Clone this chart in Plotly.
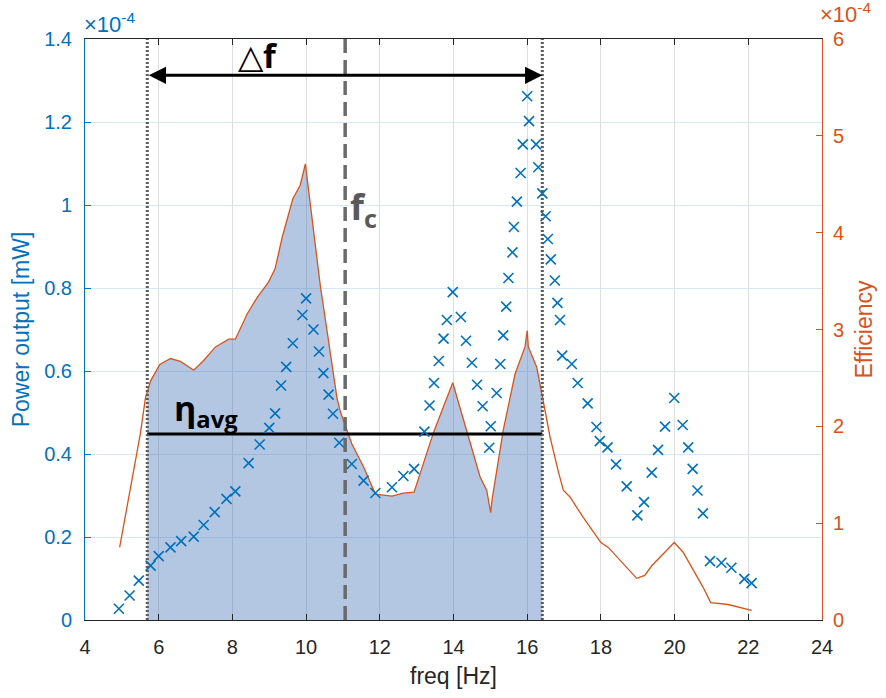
import numpy as np
import plotly.graph_objects as go

# ---- data (power in units of 1e-4 mW, efficiency in units of 1e-4) ----
freq_p = [4.92, 5.21, 5.46, 5.78, 6.00, 6.32, 6.61, 6.95, 7.22, 7.52, 7.84, 8.08,
          8.44, 8.74, 9.00, 9.16, 9.32, 9.46, 9.64, 9.90, 10.00, 10.20, 10.35, 10.47,
          10.61, 10.73, 10.90, 11.24, 11.56, 11.88, 12.33, 12.64, 12.93, 13.21, 13.35,
          13.47, 13.60, 13.73, 13.82, 13.98, 14.20, 14.34, 14.50, 14.64, 14.79, 14.97,
          15.01, 15.17, 15.27, 15.35, 15.43, 15.49, 15.60, 15.64, 15.72, 15.82, 15.88,
          16.00, 16.05, 16.24, 16.30, 16.41, 16.50, 16.56, 16.64, 16.75, 16.82, 16.89,
          16.95, 17.21, 17.37, 17.64, 17.88, 17.97, 18.18, 18.41, 18.70, 18.99, 19.17,
          19.38, 19.55, 19.74, 19.99, 20.22, 20.37, 20.49, 20.62, 20.77, 20.96, 21.27,
          21.54, 21.89, 22.09]
power = [0.027, 0.059, 0.095, 0.131, 0.154, 0.175, 0.190, 0.201, 0.229, 0.260, 0.292, 0.310,
         0.378, 0.423, 0.463, 0.498, 0.565, 0.610, 0.667, 0.735, 0.775, 0.700, 0.647, 0.595,
         0.543, 0.497, 0.427, 0.376, 0.336, 0.306, 0.320, 0.347, 0.364, 0.454, 0.517,
         0.571, 0.624, 0.678, 0.723, 0.790, 0.730, 0.673, 0.620, 0.567, 0.515, 0.415,
         0.467, 0.547, 0.617, 0.686, 0.755, 0.824, 0.886, 0.947, 1.008, 1.077, 1.146,
         1.262, 1.202, 1.146, 1.091, 1.028, 0.973, 0.918, 0.869, 0.818, 0.764, 0.723,
         0.637, 0.617, 0.571, 0.522, 0.465, 0.431, 0.416, 0.375, 0.322, 0.252, 0.284,
         0.355, 0.410, 0.466, 0.535, 0.470, 0.416, 0.364, 0.312, 0.257, 0.142, 0.138,
         0.126, 0.099, 0.089]

freq_e = [4.94, 5.30, 5.50, 5.64, 5.78, 6.03, 6.32, 6.59, 6.95, 7.22, 7.54, 7.90, 8.08, 8.40,
          8.67, 8.98, 9.16, 9.35, 9.64, 9.84, 9.98, 10.38, 10.84, 10.93, 11.24, 11.56,
          11.88, 12.33, 12.64, 12.93, 13.18, 13.46, 13.98, 14.36, 14.72, 14.90, 15.01,
          15.05, 15.35, 15.67, 15.94, 16.00, 16.03, 16.26, 16.39, 16.62, 16.84, 16.98,
          17.16, 17.52, 18.00, 18.20, 18.97, 19.19, 19.38, 19.99, 20.23, 20.77, 20.98,
          21.45, 22.09]
eff = [0.75, 1.50, 1.92, 2.29, 2.47, 2.64, 2.70, 2.67, 2.58, 2.68, 2.82, 2.90, 2.90, 3.16,
       3.33, 3.49, 3.63, 3.95, 4.35, 4.49, 4.71, 3.47, 2.29, 2.15, 1.82, 1.58,
       1.30, 1.28, 1.31, 1.32, 1.61, 1.94, 2.45, 1.96, 1.48, 1.34, 1.11,
       1.25, 1.96, 2.54, 2.82, 2.99, 2.82, 2.61, 2.34, 1.89, 1.54, 1.34,
       1.27, 1.06, 0.80, 0.75, 0.43, 0.46, 0.56, 0.80, 0.70, 0.34, 0.18,
       0.16, 0.10]

f_low, f_high = 5.69, 16.41   # bandwidth edges
f_c = 11.06                   # centre frequency
eta_avg = 1.92                # average efficiency

BLUE = "#0072BD"
ORANGE = "#D95319"
FONT = "Liberation Sans"

# fill region under efficiency between the bandwidth edges
fe = np.array(freq_e)
ee = np.array(eff)
inside = (fe > f_low) & (fe < f_high)
fill_x = np.concatenate([[f_low], fe[inside], [f_high]])
fill_y = np.concatenate([[np.interp(f_low, fe, ee)], ee[inside], [np.interp(f_high, fe, ee)]])

fig = go.Figure()
fig.add_trace(go.Scatter(x=fill_x, y=fill_y, mode="lines", fill="tozeroy",
                         fillcolor="rgba(68,115,183,0.4)", line=dict(width=0),
                         yaxis="y", hoverinfo="skip", showlegend=False))
fig.add_trace(go.Scatter(x=freq_e, y=eff, mode="lines", line=dict(color=ORANGE, width=1.3),
                         yaxis="y", showlegend=False))
fig.add_trace(go.Scatter(x=[f_low, f_high], y=[eta_avg, eta_avg], mode="lines",
                         line=dict(color="black", width=3), yaxis="y", showlegend=False))
fig.add_trace(go.Scatter(x=freq_p, y=power, mode="markers", yaxis="y2", showlegend=False,
                         marker=dict(symbol="x-thin", size=10, color=BLUE,
                                     line=dict(color=BLUE, width=1.6))))

shapes = []
for fx in (f_low, f_high):
    shapes.append(dict(type="line", xref="x", yref="paper", x0=fx, x1=fx, y0=0, y1=1,
                       line=dict(color="#5a5a5a", width=3, dash="2px,2px"), layer="above"))
shapes.append(dict(type="line", xref="x", yref="paper", x0=f_c, x1=f_c, y0=0, y1=1,
                   line=dict(color="#6a6a6a", width=3.5, dash="14px,7px"), layer="above"))

annotations = [
    dict(x=f_high, y=5.625, xref="x", yref="y", ax=f_low, ay=5.625, axref="x", ayref="y",
         showarrow=True, arrowhead=2, arrowside="end+start", arrowsize=1.15, arrowwidth=3,
         arrowcolor="black", text=""),
    dict(x=8.70, y=0.930, xref="x", yref="paper", showarrow=False, yanchor="bottom",
         text="△<b>f</b>", font=dict(family="Open Sans", size=33, color="black")),
    dict(x=11.13, y=0.757, xref="x", yref="paper", showarrow=False, xanchor="left",
         text="<b>f<sub>c</sub></b>", font=dict(family="Open Sans", size=36, color="#595959")),
    dict(x=6.37, y=0.362, xref="x", yref="paper", showarrow=False, xanchor="left",
         text="<b>η<sub>avg</sub></b>", font=dict(family="Open Sans", size=34, color="black")),
    dict(x=-0.004, y=1.0, xref="paper", yref="paper", showarrow=False, xanchor="left",
         yanchor="bottom", text="×10<sup>-4</sup>", font=dict(family=FONT, size=22, color=BLUE)),
    dict(x=0.995, y=1.018, xref="paper", yref="paper", showarrow=False, xanchor="left",
         yanchor="bottom", text="×10<sup>-4</sup>", font=dict(family=FONT, size=22, color=ORANGE)),
]

fig.update_layout(
    width=886, height=698,
    margin=dict(l=85, r=64, t=39, b=78),
    paper_bgcolor="white", plot_bgcolor="white",
    font=dict(family=FONT, size=20, color="#262626"),
    shapes=shapes, annotations=annotations,
    xaxis=dict(range=[4, 24], dtick=2, tick0=4, ticks="inside", ticklen=6, tickcolor="#262626",
               showline=True, linecolor="#262626", linewidth=1, mirror="ticks",
               showgrid=True, gridcolor="#dedede", gridwidth=1, zeroline=False,
               ticklabelstandoff=9,
               title=dict(text="freq [Hz]", font=dict(size=23), standoff=10),
               tickfont=dict(size=20, color="#262626")),
    yaxis=dict(range=[0, 6], dtick=1, side="right", ticks="inside", ticklen=6,
               tickcolor=ORANGE, showline=True, linecolor=ORANGE, linewidth=1,
               showgrid=False, zeroline=False, tickfont=dict(size=20, color=ORANGE),
               ticklabelstandoff=6,
               title=dict(text="Efficiency", font=dict(size=23, color=ORANGE), standoff=12)),
    yaxis2=dict(range=[0, 1.4], dtick=0.2, side="left", overlaying="y", ticks="inside",
                ticklen=6, tickcolor=BLUE, showline=True, linecolor=BLUE, linewidth=1,
                showgrid=True, gridcolor="#d6e7f5", gridwidth=1, zeroline=False,
                tickfont=dict(size=20, color=BLUE), ticklabelstandoff=8,
                title=dict(text="Power output [mW]", font=dict(size=23, color=BLUE), standoff=8)),
)

fig.write_html("out.html")
